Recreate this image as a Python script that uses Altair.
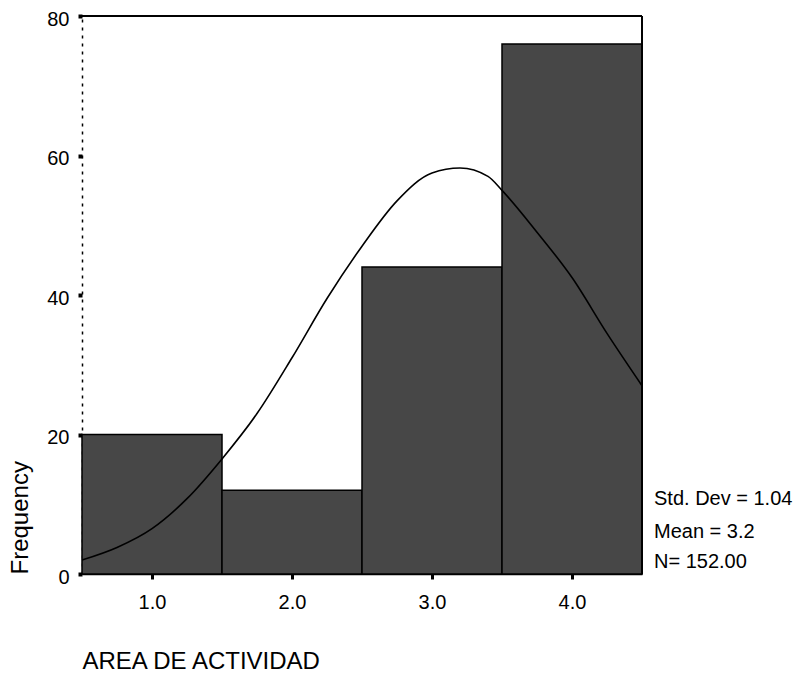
import altair as alt
import pandas as pd

# Histogram data
bin_start = [0.5, 1.5, 2.5, 3.5]
bin_end = [1.5, 2.5, 3.5, 4.5]
counts = [20, 12, 44, 76]

# Normal curve
curve_x = [0.5, 0.75, 1.0, 1.25, 1.5, 1.75, 2.0, 2.25, 2.5, 2.75, 3.0, 3.2, 3.4, 3.5, 3.75, 4.0, 4.25, 4.5]
curve_y = [2.0, 3.8, 6.5, 10.8, 16.5, 23.0, 31.0, 39.5, 47.0, 53.5, 57.5, 58.2, 57.0, 55.0, 49.0, 42.5, 34.5, 27.0]

x_ticks = [1, 2, 3, 4]
y_ticks = [0, 20, 40, 60, 80]
stats_labels = ["Std. Dev = 1.04", "Mean = 3.2", "N= 152.00"]

FONT = "Liberation Sans"

bars_df = pd.DataFrame({"start": bin_start, "end": bin_end, "count": counts})
curve_df = pd.DataFrame({"x": curve_x, "y": curve_y})

xscale = alt.Scale(domain=[0.5, 4.5], nice=False, zero=False)
yscale = alt.Scale(domain=[0, 80], nice=False)

xaxis = alt.Axis(
    values=x_ticks, format=".1f", grid=False,
    domainColor="black", domainWidth=1.5,
    tickColor="black", tickSize=5, tickWidth=3,
    labelFont=FONT, labelFontSize=20, labelColor="black",
    labelBaseline="alphabetic", labelPadding=29,
    title="AREA DE ACTIVIDAD", titleFont=FONT, titleFontSize=24,
    titleFontWeight="normal", titleColor="black",
    titleX=0, titleY=94, titleAlign="left", titleBaseline="alphabetic",
)
yaxis = alt.Axis(
    values=y_ticks, grid=False,
    domainColor="black", domainWidth=1.5, domainDash=[3, 5],
    tickColor="black", tickSize=4, tickWidth=4,
    labelFont=FONT, labelFontSize=20, labelColor="black",
    labelPadding=9, labelOffset=3,
    title="Frequency", titleFont=FONT, titleFontSize=24,
    titleFontWeight="normal", titleColor="black",
    titleX=-55, titleY=558, titleAlign="left", titleAngle=270,
    titleBaseline="alphabetic",
)

bars = alt.Chart(bars_df).mark_rect(
    fill="#474747", stroke="black", strokeWidth=1.5
).encode(
    x=alt.X("start:Q", scale=xscale, axis=xaxis),
    x2="end:Q",
    y=alt.Y("count:Q", scale=yscale, axis=yaxis),
    y2=alt.datum(0),
)

curve = alt.Chart(curve_df).mark_line(
    color="black", strokeWidth=1.6, interpolate="monotone"
).encode(
    x=alt.X("x:Q", scale=xscale),
    y=alt.Y("y:Q", scale=yscale),
)

top_rule = alt.Chart(bars_df).mark_rule(color="black", strokeWidth=1.5).encode(
    x=alt.datum(0.5), x2=alt.datum(4.5), y=alt.datum(80)
)
right_rule = alt.Chart(bars_df).mark_rule(color="black", strokeWidth=1.5).encode(
    x=alt.datum(4.5), y=alt.datum(0), y2=alt.datum(80)
)

stats_y = [483, 516, 546]
texts = []
for lbl, yy in zip(stats_labels, stats_y):
    texts.append(
        alt.Chart(pd.DataFrame({"t": [lbl]})).mark_text(
            align="left", baseline="middle", font=FONT, fontSize=20, color="black"
        ).encode(text="t:N", x=alt.value(572), y=alt.value(yy))
    )

chart = alt.layer(bars, curve, top_rule, right_rule, *texts).properties(
    width=560, height=558,
    autosize=alt.AutoSizeParams(type="none"),
    padding={"left": 82, "top": 16, "right": 152, "bottom": 100},
    background="white",
).configure_view(stroke=None)

chart.save("out.html", embed_options={"renderer": "svg", "actions": False})
